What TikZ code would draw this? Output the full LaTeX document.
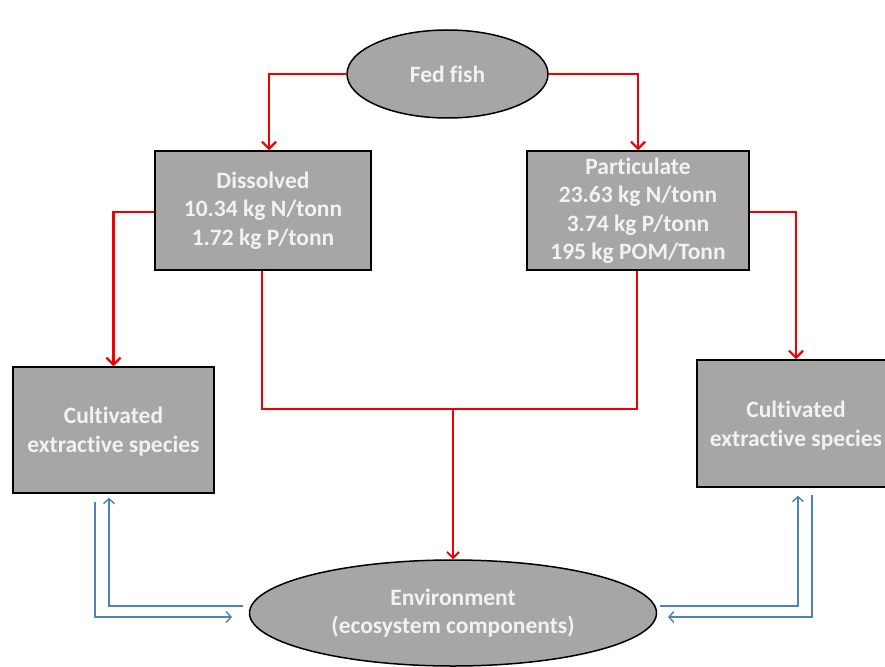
\documentclass[tikz,border=0pt]{standalone}
\usepackage{fontspec}
\setmainfont{Carlito}[BoldFont={Carlito Bold},Ligatures=NoCommon]
\usetikzlibrary{shapes.geometric,arrows.meta,calc}
\definecolor{boxgray}{HTML}{A6A6A6}
\definecolor{txtwhite}{HTML}{F2F2F2}
\definecolor{redline}{HTML}{F00000}
\definecolor{blueline}{HTML}{4F81BD}
\tikzset{
  shapebase/.style={draw=black, line width=1.5pt, fill=boxgray, text=txtwhite,
    font=\bfseries\fontsize{23.5}{28.5}\selectfont, align=center, inner sep=0pt},
  boxnode/.style={shapebase, rectangle},
  ovalnode/.style={shapebase, ellipse},
  redarrow/.style={draw=redline, line width=2.2pt, -{Straight Barb[length=7pt,width=14pt,line width=2.2pt]}},
  redthin/.style={draw=redline, line width=1.8pt},
  bluearrow/.style={draw=blueline, line width=1.4pt, -{Straight Barb[length=5pt,width=11pt,line width=1.4pt]}}
}
\begin{document}
\begin{tikzpicture}[x=1pt,y=-1pt]
\useasboundingbox[fill=white] (0,0) rectangle (885,666);
\node[ovalnode, minimum width=201pt, minimum height=88pt] (fed) at (447.5,74) {Fed fish};
\node[boxnode, minimum width=216pt, minimum height=119pt] (dis) at (263,210.5) {Dissolved\\10.34 kg N/tonn\\1.72 kg P/tonn};
\node[boxnode, minimum width=222pt, minimum height=119pt] (par) at (638,210.5) {Particulate\\23.63 kg N/tonn\\3.74 kg P/tonn\\195 kg POM/Tonn};
\node[boxnode, minimum width=201pt, minimum height=126pt, text depth=-6pt] (lc) at (113.5,430) {Cultivated\\extractive species};
\node[boxnode, minimum width=198pt, minimum height=127pt, text depth=-6pt] (rc) at (796,423.5) {Cultivated\\extractive species};
\node[ovalnode, minimum width=407pt, minimum height=106pt] (env) at (453,613) {Environment\\(ecosystem components)};

% red flows
\draw[redarrow] (fed.west) -| ($(dis.north)+(6,0)$);
\draw[redarrow] (fed.east) -| (par.north);
\draw[redarrow] ($(dis.west)+(0,1.5)$) -| (lc.north);
\draw[redarrow] ($(par.east)+(0,1.5)$) -| (rc.north);
\coordinate (merge) at (453,409);
\draw[redthin] ($(dis.south)+(-1,0)$) |- (merge) -| ($(par.south)+(-1,0)$);
\draw[redthin, -{Straight Barb[length=6pt,width=12pt,line width=1.8pt]}] (merge) -- (env.north);

% blue flows, left
\coordinate (l1) at (95,502);
\coordinate (l2) at (232,617);
\coordinate (l3) at (243,606);
\draw[bluearrow] (l1) |- (l2);
\draw[bluearrow] (l3) -| ($(lc.south)+(-4.5,4)$);
% blue flows, right
\coordinate (r1) at (660,606);
\coordinate (r2) at (812,495);
\coordinate (r3) at (668,617);
\draw[bluearrow] (r1) -| ($(rc.south)+(2,8)$);
\draw[bluearrow] (r2) |- (r3);
\end{tikzpicture}
\end{document}
